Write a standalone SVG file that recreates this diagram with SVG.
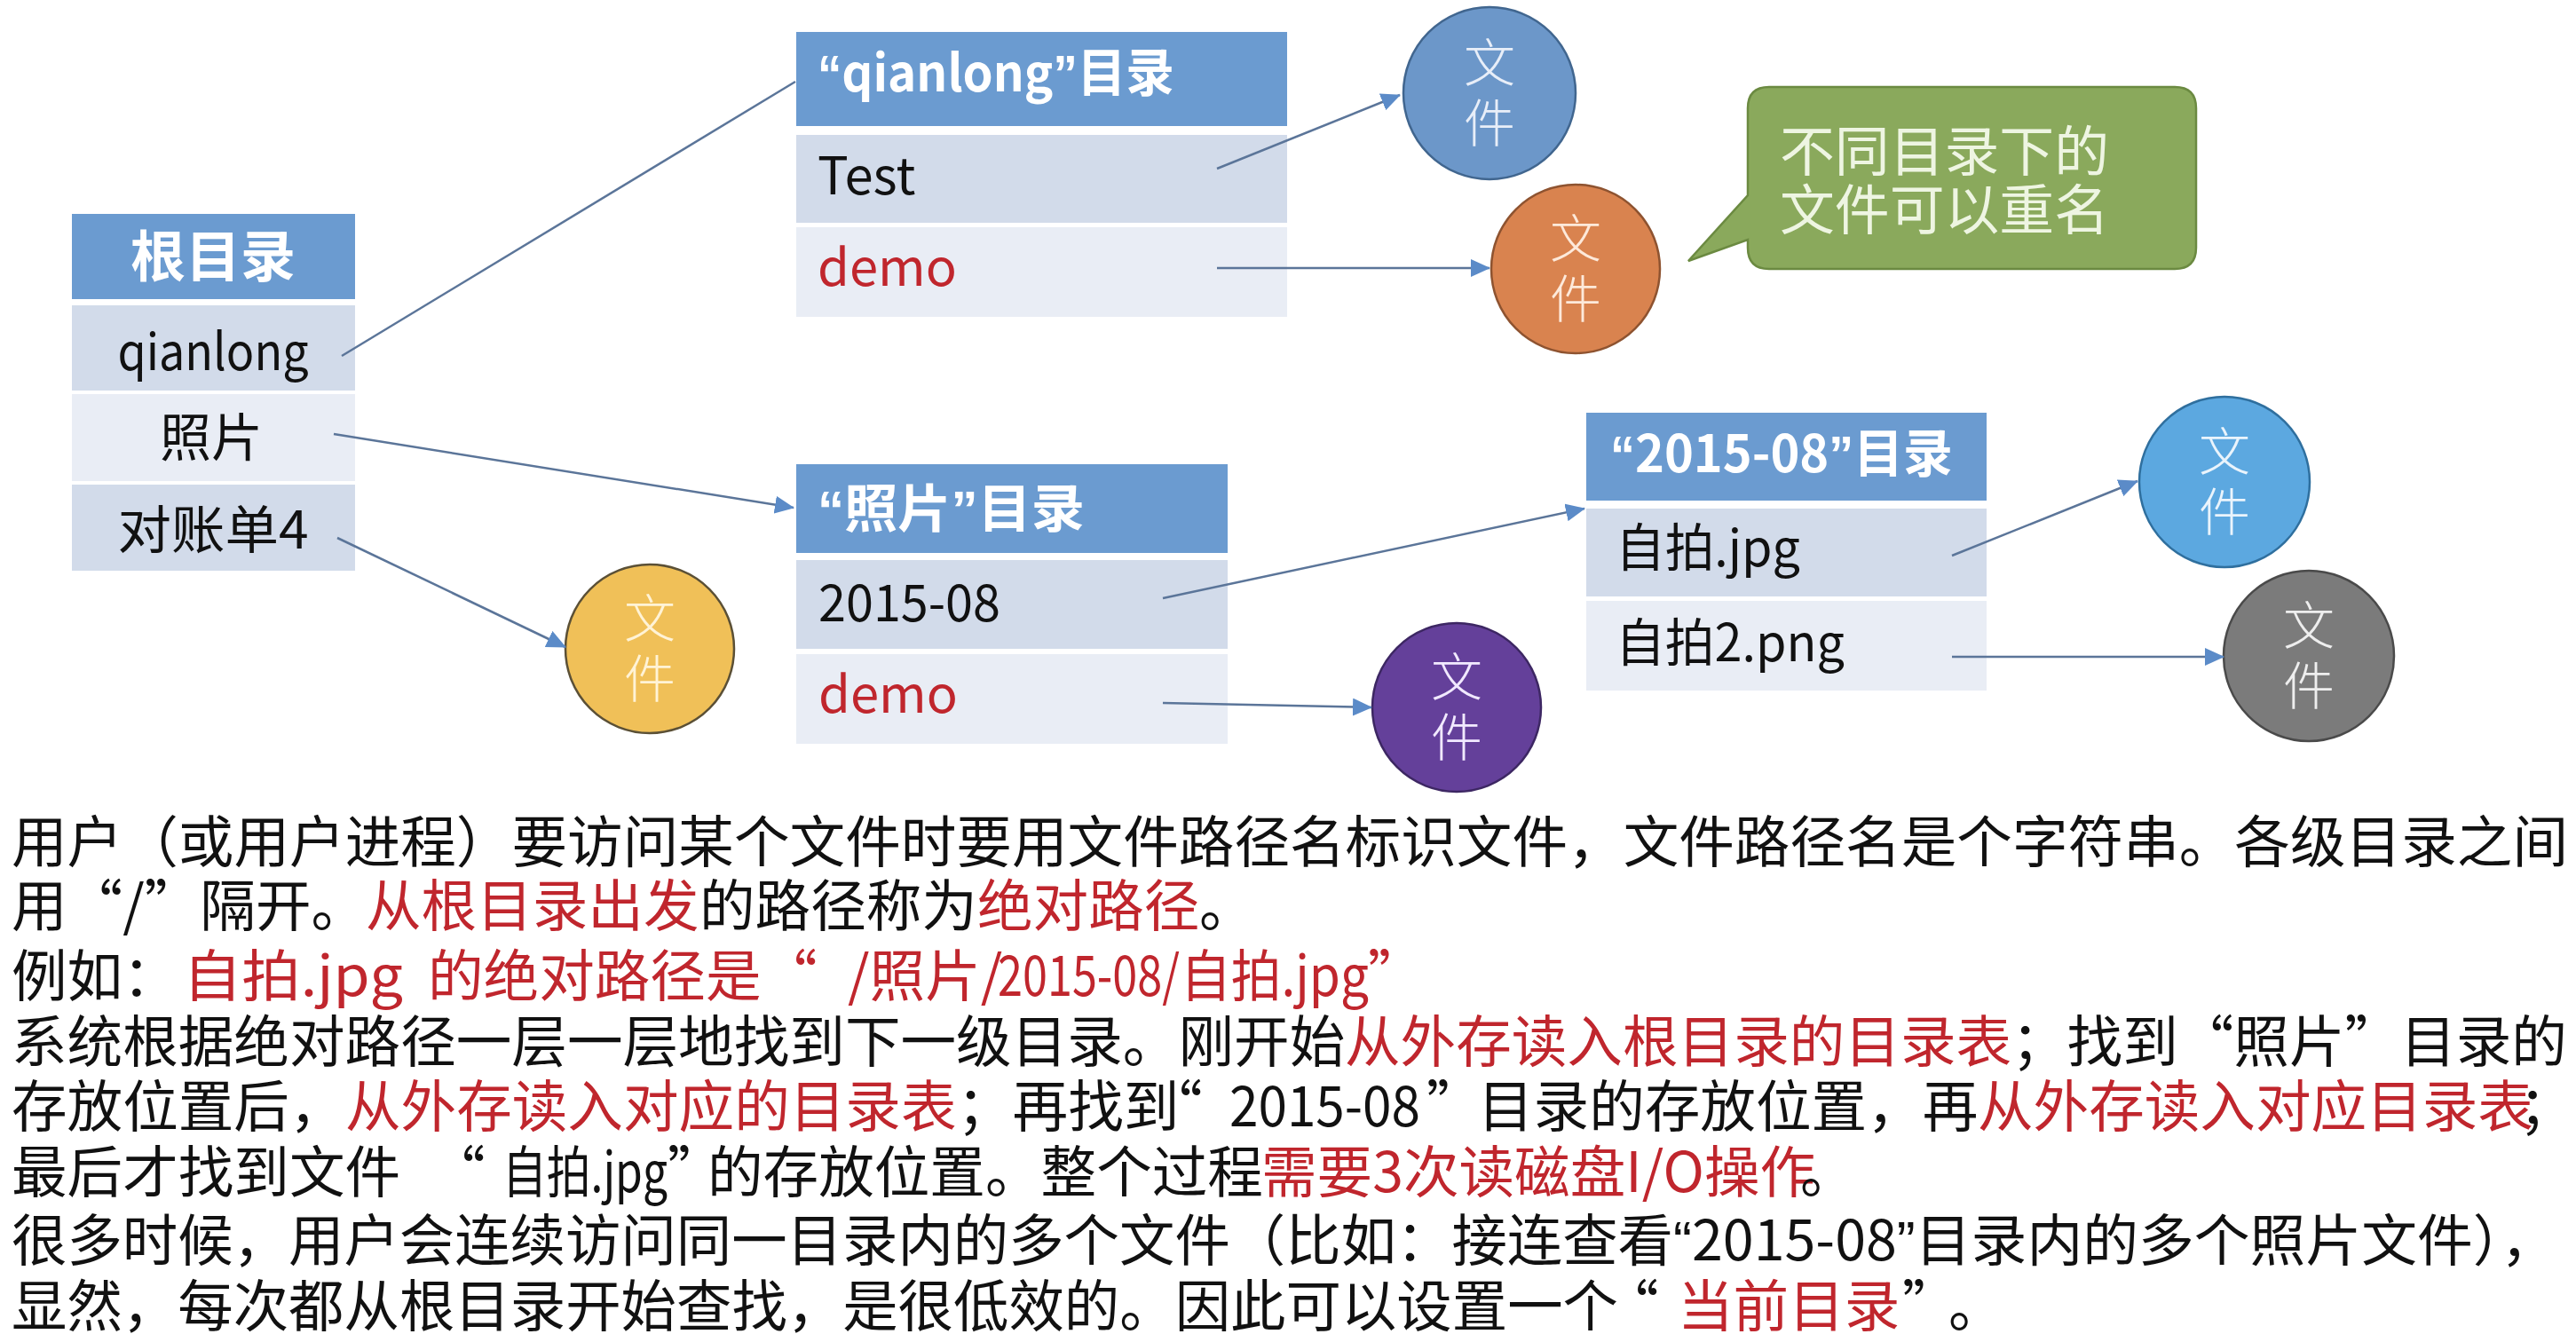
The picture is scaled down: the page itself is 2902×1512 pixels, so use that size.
<svg xmlns="http://www.w3.org/2000/svg" width="2902" height="1512" viewBox="0 0 2902 1512">
  <style>
    text { font-family: "Noto Sans CJK SC", "Liberation Sans", sans-serif; }
    .hdr { fill: #6b9bd0; }
    .rowA { fill: #d2dbea; }
    .rowB { fill: #e9edf5; }
    .hdrTxt { fill: #ffffff; font-size: 58px; font-weight: bold; }
    .cell { fill: #111111; font-size: 58px; }
    .link { fill: none; stroke: #5b7599; stroke-width: 2.5; }
    .fileTxt { font-size: 58px; text-anchor: middle; font-weight: 300; }
    .body { font-size: 62.6px; fill: #111111; }
    .q { font-family: "Liberation Sans", "Noto Sans CJK SC", sans-serif; }
    .red, .body.red, .cell.red { fill: #c0262d; }
  </style>
  <defs>
    <marker id="arrow" markerUnits="userSpaceOnUse" markerWidth="22" markerHeight="20" refX="21" refY="10" orient="auto">
      <path d="M0,0 L22,10 L0,20 z" fill="#5b8bc8"/>
    </marker>
  </defs>

  <rect width="2902" height="1512" fill="#ffffff"/>

  <!-- root directory table -->
  <g id="root-dir">
    <rect class="hdr" x="81" y="241" width="319" height="96"/>
    <rect class="rowA" x="81" y="344" width="319" height="96"/>
    <rect class="rowB" x="81" y="444" width="319" height="98"/>
    <rect class="rowA" x="81" y="546" width="319" height="97"/>
    <text class="hdrTxt" x="240" y="312" text-anchor="middle" style="font-size:62px">根目录</text>
    <text class="cell" x="240" y="417" text-anchor="middle" textLength="215" lengthAdjust="spacingAndGlyphs">qianlong</text>
    <text class="cell" x="238" y="514" text-anchor="middle">照片</text>
    <text class="cell" x="240" y="618" text-anchor="middle" textLength="215" lengthAdjust="spacingAndGlyphs">对账单4</text>
  </g>

  <!-- "qianlong" directory table -->
  <g id="qianlong-dir">
    <rect class="hdr" x="897" y="36" width="553" height="106"/>
    <rect class="rowA" x="897" y="152" width="553" height="99"/>
    <rect class="rowB" x="897" y="256" width="553" height="101"/>
    <text class="hdrTxt" x="921" y="103" textLength="402" lengthAdjust="spacingAndGlyphs"><tspan class="q">“</tspan>qianlong<tspan class="q">”</tspan>目录</text>
    <text class="cell" x="921" y="219">Test</text>
    <text class="cell red" x="921" y="322">demo</text>
  </g>

  <!-- "照片" directory table -->
  <g id="photo-dir">
    <rect class="hdr" x="897" y="523" width="486" height="100"/>
    <rect class="rowA" x="897" y="631" width="486" height="100"/>
    <rect class="rowB" x="897" y="737" width="486" height="101"/>
    <text class="hdrTxt" x="921" y="594" textLength="301" lengthAdjust="spacingAndGlyphs"><tspan class="q">“</tspan>照片<tspan class="q">”</tspan>目录</text>
    <text class="cell" x="922" y="700" textLength="205" lengthAdjust="spacingAndGlyphs">2015-08</text>
    <text class="cell red" x="922" y="803">demo</text>
  </g>

  <!-- "2015-08" directory table -->
  <g id="dir-2015-08">
    <rect class="hdr" x="1787" y="465" width="451" height="99"/>
    <rect class="rowA" x="1787" y="573" width="451" height="99"/>
    <rect class="rowB" x="1787" y="677" width="451" height="101"/>
    <text class="hdrTxt" x="1814" y="532" textLength="386" lengthAdjust="spacingAndGlyphs"><tspan class="q">“</tspan>2015-08<tspan class="q">”</tspan>目录</text>
    <text class="cell" x="1820" y="638" textLength="208" lengthAdjust="spacingAndGlyphs">自拍.jpg</text>
    <text class="cell" x="1820" y="745" textLength="258" lengthAdjust="spacingAndGlyphs">自拍2.png</text>
  </g>

  <!-- file nodes -->
  <g id="file-test">
    <circle cx="1678" cy="105" r="97" fill="#6c97c9" stroke="#41668f" stroke-width="2.5"/>
    <text class="fileTxt" x="1678" y="92" fill="#e8eef8">文</text>
    <text class="fileTxt" x="1678" y="160" fill="#e8eef8">件</text>
  </g>
  <g id="file-demo-1">
    <circle cx="1775" cy="303" r="95" fill="#d9834f" stroke="#8e5330" stroke-width="2.5"/>
    <text class="fileTxt" x="1775" y="290" fill="#fde9da">文</text>
    <text class="fileTxt" x="1775" y="358" fill="#fde9da">件</text>
  </g>
  <g id="file-bill">
    <circle cx="732" cy="731" r="95" fill="#f0c058" stroke="#5b5036" stroke-width="2.5"/>
    <text class="fileTxt" x="732" y="718" fill="#fff3d6">文</text>
    <text class="fileTxt" x="732" y="786" fill="#fff3d6">件</text>
  </g>
  <g id="file-demo-2">
    <circle cx="1641" cy="797" r="95" fill="#64409a" stroke="#3d2763" stroke-width="2.5"/>
    <text class="fileTxt" x="1641" y="784" fill="#f1e9ff">文</text>
    <text class="fileTxt" x="1641" y="852" fill="#f1e9ff">件</text>
  </g>
  <g id="file-jpg">
    <circle cx="2506" cy="543" r="96" fill="#5ca8e0" stroke="#2f6f9e" stroke-width="2.5"/>
    <text class="fileTxt" x="2506" y="530" fill="#eaf4fc">文</text>
    <text class="fileTxt" x="2506" y="598" fill="#eaf4fc">件</text>
  </g>
  <g id="file-png">
    <circle cx="2601" cy="739" r="96" fill="#7b7b7b" stroke="#4a4a4a" stroke-width="2.5"/>
    <text class="fileTxt" x="2601" y="726" fill="#eeeeee">文</text>
    <text class="fileTxt" x="2601" y="794" fill="#eeeeee">件</text>
  </g>

  <!-- speech-bubble note -->
  <g id="note">
    <path d="M1993,98 H2450 Q2474,98 2474,122 V279 Q2474,303 2450,303 H1993 Q1969,303 1969,279 V270 L1902,294 L1969,220 V122 Q1969,98 1993,98 Z" fill="#8aa95c" stroke="#6b8a41" stroke-width="2.5"/>
    <text x="2005" y="193" font-size="61" fill="#eef5e2" textLength="371" lengthAdjust="spacingAndGlyphs">不同目录下的</text>
    <text x="2005" y="259" font-size="61" fill="#eef5e2" textLength="371" lengthAdjust="spacingAndGlyphs">文件可以重名</text>
  </g>

  <!-- connectors -->
  <g id="connectors">
    <path class="link" d="M385,401 L896,92"/>
    <path class="link" d="M1371,190 L1577,107" marker-end="url(#arrow)"/>
    <path class="link" d="M1371,302 L1678,302" marker-end="url(#arrow)"/>
    <path class="link" d="M376,489 L894,572" marker-end="url(#arrow)"/>
    <path class="link" d="M380,606 L637,729" marker-end="url(#arrow)"/>
    <path class="link" d="M1310,674 L1785,573" marker-end="url(#arrow)"/>
    <path class="link" d="M1310,792 L1545,797" marker-end="url(#arrow)"/>
    <path class="link" d="M2199,626 L2408,542" marker-end="url(#arrow)"/>
    <path class="link" d="M2199,740 L2505,740" marker-end="url(#arrow)"/>
  </g>

  <!-- explanatory paragraph -->
  <g id="notes-text">
    <text class="body" x="13" y="971" textLength="2880" lengthAdjust="spacingAndGlyphs">用户（或用户进程）要访问某个文件时要用文件路径名标识文件，文件路径名是个字符串。各级目录之间</text>

    <text class="body" y="1043"><tspan x="13">用“/”隔开。</tspan><tspan x="412" class="red">从根目录出发</tspan><tspan x="788">的路径称为</tspan><tspan x="1101" class="red">绝对路径</tspan><tspan x="1351">。</tspan></text>

    <text class="body" x="13" y="1122">例如：</text>
    <text class="body red" x="206" y="1122" textLength="248" lengthAdjust="spacingAndGlyphs">自拍.jpg</text>
    <text class="body red" y="1122"><tspan x="482">的绝对路径是</tspan><tspan x="858">“</tspan><tspan x="955">/照片/</tspan></text>
    <text class="body red" x="1124" y="1122" textLength="205" lengthAdjust="spacingAndGlyphs">2015-08/</text>
    <text class="body red" x="1330" y="1122" textLength="212" lengthAdjust="spacingAndGlyphs">自拍.jpg</text>
    <text class="body red" x="1541" y="1122">”</text>

    <text class="body" y="1196"><tspan x="13">系统根据绝对路径一层一层地找到下一级目录。刚开始</tspan><tspan x="1515" class="red">从外存读入根目录的目录表</tspan><tspan x="2266">；找到“照片”目录的</tspan></text>

    <text class="body" y="1269"><tspan x="13">存放位置后，</tspan><tspan x="389" class="red">从外存读入对应的目录表</tspan><tspan x="1078">；再找到</tspan><tspan x="1292">“</tspan></text>
    <text class="body" x="1385" y="1269" textLength="215" lengthAdjust="spacingAndGlyphs">2015-08</text>
    <text class="body" y="1269"><tspan x="1607">”</tspan><tspan x="1665">目录的存放位置，再</tspan><tspan x="2228" class="red">从外存读入对应目录表</tspan></text>
    <text class="body" x="2900" y="1269" text-anchor="end">；</text>

    <text class="body" y="1343"><tspan x="13">最后才找到文件</tspan><tspan x="484">“</tspan></text>
    <text class="body" x="566" y="1343" textLength="186" lengthAdjust="spacingAndGlyphs">自拍.jpg</text>
    <text class="body" y="1343"><tspan x="752">”</tspan><tspan x="797">的存放位置。整个过程</tspan></text>
    <text class="body red" x="1421" y="1343">需要3次读磁盘I/O操作</text>
    <text class="body" x="2028" y="1343">。</text>

    <text class="body" x="13" y="1420" textLength="1872" lengthAdjust="spacingAndGlyphs">很多时候，用户会连续访问同一目录内的多个文件（比如：接连查看</text>
    <text class="body" x="1885" y="1420" textLength="995" lengthAdjust="spacingAndGlyphs"><tspan class="q">“</tspan>2015-08<tspan class="q">”</tspan>目录内的多个照片文件），</text>

    <text class="body" x="13" y="1494" textLength="1810" lengthAdjust="spacingAndGlyphs">显然，每次都从根目录开始查找，是很低效的。因此可以设置一个</text>
    <text class="body" y="1494"><tspan x="1806">“</tspan><tspan x="1890" class="red">当前目录</tspan><tspan x="2143">”</tspan><tspan x="2195">。</tspan></text>
  </g>
</svg>
